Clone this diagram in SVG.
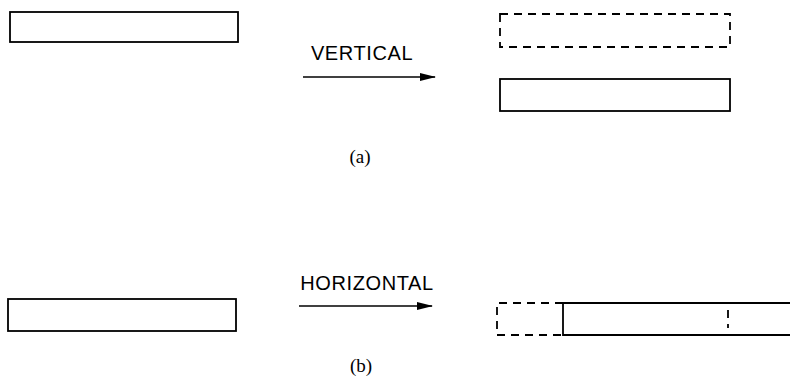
<svg xmlns="http://www.w3.org/2000/svg" width="790" height="388" viewBox="0 0 790 388">
  <defs>
    <marker id="arrowhead" markerWidth="16" markerHeight="8" refX="15" refY="4" orient="auto" markerUnits="userSpaceOnUse">
      <path d="M0,0 L16,4 L0,8 Z" fill="#000"/>
    </marker>
    <style>
      .box { fill: none; stroke: #000; stroke-width: 1.8; }
      .ghost { fill: none; stroke: #000; stroke-width: 1.8; stroke-dasharray: 8 6; }
      .conn { fill: none; stroke: #000; stroke-width: 1.5; marker-end: url(#arrowhead); }
      .lbl { font-family: "Liberation Sans", Arial, sans-serif; font-size: 20px; letter-spacing: 0.6px; fill: #000; text-anchor: middle; }
      .cap { font-family: "Liberation Serif", "Times New Roman", serif; font-size: 19px; fill: #000; text-anchor: middle; }
    </style>
  </defs>

  <rect width="790" height="388" fill="#fff"/>

  <!-- (a) vertical move -->
  <g id="a-source">
    <rect class="box" x="10" y="12" width="228" height="30"/>
  </g>
  <g id="a-old">
    <rect class="ghost" x="500" y="14" width="230" height="33"/>
  </g>
  <g id="a-new">
    <rect class="box" x="500" y="79" width="230" height="32"/>
  </g>
  <text class="lbl" x="362" y="60">VERTICAL</text>
  <text class="cap" x="360" y="163">(a)</text>

  <!-- (b) horizontal move -->
  <g id="b-source">
    <rect class="box" x="8" y="299" width="228" height="32"/>
  </g>
  <g id="b-old">
    <path class="ghost" d="M563,303 H497 V335 H563"/>
    <line class="ghost" x1="728" y1="310" x2="728" y2="328"/>
  </g>
  <g id="b-new">
    <path class="box" d="M790,303 H563 V335 H790"/>
  </g>
  <text class="lbl" x="367" y="290">HORIZONTAL</text>
  <text class="cap" x="361" y="372">(b)</text>

  <g id="connectors">
    <line class="conn" x1="303" y1="77" x2="435" y2="77"/>
    <line class="conn" x1="299" y1="306" x2="432" y2="306"/>
  </g>
</svg>
